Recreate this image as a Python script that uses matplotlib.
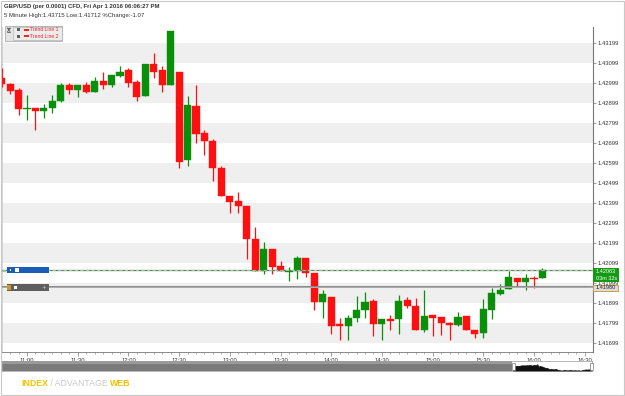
import matplotlib
matplotlib.use("Agg")
import matplotlib.pyplot as plt
from matplotlib.patches import Rectangle
import numpy as np

# ---------------- data ----------------
candle_idx = list(range(-3, 62))  # 5-minute bars, 0 = 11:00
opens = [1.43026, 1.42994, 1.42966, 1.42871, 1.42876, 1.42861, 1.42874, 1.42909, 1.42989, 1.42966,
         1.42989, 1.42956, 1.43011, 1.42991, 1.43033, 1.43064, 1.43003, 1.42936, 1.43093, 1.43064,
         1.42989, 1.43053, 1.42614, 1.42884, 1.42748, 1.42709, 1.42576, 1.42434, 1.42409, 1.42384,
         1.42221, 1.42059, 1.42169, 1.42084, 1.42054, 1.42061, 1.42122, 1.42047, 1.41906, 1.41928,
         1.41792, 1.41786, 1.41826, 1.41864, 1.41909, 1.41792, 1.41819, 1.41818, 1.41913, 1.41884,
         1.41764, 1.41839, 1.41831, 1.41798, 1.41789, 1.41832, 1.41763, 1.41748, 1.41866, 1.41946,
         1.41968, 1.42024, 1.42006, 1.42022, 1.42022]
highs = [1.43072, 1.42998, 1.42974, 1.42941, 1.42876, 1.42896, 1.42939, 1.42998, 1.43001, 1.42989,
         1.43006, 1.43029, 1.43053, 1.43039, 1.43084, 1.43072, 1.43014, 1.43093, 1.43148, 1.43086,
         1.43259, 1.43053, 1.42936, 1.42989, 1.42763, 1.42719, 1.42586, 1.42434, 1.42453, 1.42384,
         1.42281, 1.42203, 1.42169, 1.42109, 1.42080, 1.42134, 1.42122, 1.42047, 1.41964, 1.41928,
         1.41826, 1.41839, 1.41934, 1.41953, 1.41919, 1.41819, 1.41839, 1.41939, 1.41929, 1.41922,
         1.41964, 1.41839, 1.41831, 1.41806, 1.41852, 1.41832, 1.41763, 1.41919, 1.41972, 1.41992,
         1.42059, 1.42024, 1.42042, 1.42033, 1.42073]
lows = [1.42981, 1.42944, 1.42839, 1.42814, 1.42764, 1.42822, 1.42849, 1.42903, 1.42944, 1.42928,
        1.42947, 1.42953, 1.42971, 1.42978, 1.43029, 1.42980, 1.42909, 1.42936, 1.43026, 1.42956,
        1.42989, 1.42576, 1.42586, 1.42698, 1.42639, 1.42511, 1.42432, 1.42351, 1.42351, 1.42117,
        1.42059, 1.42042, 1.42042, 1.42059, 1.42010, 1.42019, 1.42030, 1.41863, 1.41823, 1.41742,
        1.41714, 1.41712, 1.41803, 1.41823, 1.41736, 1.41712, 1.41766, 1.41742, 1.41876, 1.41764,
        1.41752, 1.41736, 1.41739, 1.41714, 1.41786, 1.41766, 1.41722, 1.41725, 1.41819, 1.41939,
        1.41968, 1.41978, 1.41964, 1.41976, 1.42022]
closes = [1.42993, 1.42961, 1.42868, 1.42876, 1.42861, 1.42876, 1.42911, 1.42989, 1.42966, 1.42989,
          1.42956, 1.43011, 1.42991, 1.43039, 1.43053, 1.43001, 1.42931, 1.43093, 1.43056, 1.42989,
          1.43259, 1.42606, 1.42889, 1.42746, 1.42711, 1.42576, 1.42432, 1.42406, 1.42384, 1.42221,
          1.42059, 1.42169, 1.42077, 1.42061, 1.42061, 1.42122, 1.42047, 1.41906, 1.41943, 1.41786,
          1.41784, 1.41823, 1.41864, 1.41906, 1.41792, 1.41819, 1.41809, 1.41911, 1.41884, 1.41764,
          1.41836, 1.41823, 1.41801, 1.41789, 1.41829, 1.41766, 1.41745, 1.41869, 1.41949, 1.41966,
          1.42027, 1.42002, 1.42022, 1.42017, 1.42063]

time_labels = ["11:00", "11:30", "12:00", "12:30", "13:00", "13:30",
               "14:00", "14:30", "15:00", "15:30", "16:00", "16:30"]
time_label_idx = [0, 6, 12, 18, 24, 30, 36, 42, 48, 54, 60, 66]
price_ticks = [1.41699, 1.41799, 1.41899, 1.41999, 1.42099, 1.42199, 1.42299, 1.42399,
               1.42499, 1.42599, 1.42699, 1.42799, 1.42899, 1.42999, 1.43099, 1.43199]
band_ranges = [(1.41699, 1.41799), (1.41899, 1.41999), (1.42099, 1.42199), (1.42299, 1.42399),
               (1.42499, 1.42599), (1.42699, 1.42799), (1.42899, 1.42999), (1.43099, 1.43199)]
last_price = 1.42063
trend_line_1 = 1.42066
trend_line_2 = 1.41980

title1 = "GBP/USD (per 0.0001) CFD, Fri Apr 1 2016 06:06:27 PM"
title2 = "5 Minute High:1.43715 Low:1.41712 %Change:-1.07"

# ---------------- figure ----------------
W, H = 625, 396
fig = plt.figure(figsize=(W / 100, H / 100), dpi=100)
FONT = "Liberation Sans"


def px(x0, y0, x1, y1):
    return [x0 / W, 1 - y1 / H, (x1 - x0) / W, (y1 - y0) / H]


GREEN = "#0a8f0a"
RED = "#ff1010"

# main axes
ax = fig.add_axes(px(2, 27, 593, 352))
ax.set_xlim(-2.96, 66.98)
ax.set_ylim(1.41654, 1.43279)
for lo, hi in band_ranges:
    ax.axhspan(lo, hi, color="#efefef", zorder=0, lw=0)

x = np.array(candle_idx)
o = np.array(opens); h = np.array(highs); l = np.array(lows); c = np.array(closes)
up = c >= o
cols = np.where(up, GREEN, RED)
ax.vlines(x, l, h, colors=cols, lw=0.9, zorder=3)
body_lo = np.minimum(o, c)
body_h = np.maximum(np.abs(c - o), 0.000025)
ax.bar(x, body_h, bottom=body_lo, width=0.84, color=cols, edgecolor=cols, lw=0.3, zorder=4)

ax.axhline(trend_line_1, color="#6a6a6a", lw=0.9, zorder=5)
ax.axhline(last_price, color="#8fd08f", lw=0.8, ls=(0, (3, 2)), zorder=5)
ax.axhline(trend_line_2, color="#8a8a8a", lw=1.4, zorder=5)
ax.axhline(trend_line_2, color="#c8c8c8", lw=0.4, zorder=5)

ax.yaxis.tick_right()
ax.set_yticks(price_ticks)
ax.set_yticklabels([f"{v:.5f}" for v in price_ticks], fontsize=4.2, color="#333333", family=FONT)
ax.tick_params(axis="y", length=2, width=0.5, color="#777777", pad=1.5)
ax.set_xticks(time_label_idx)
ax.set_xticklabels(time_labels, fontsize=4.2, color="#333333", family=FONT)
ax.set_xticks(np.arange(-2, 67, 1), minor=True)
ax.tick_params(axis="x", which="major", length=3, width=0.5, color="#777777", pad=1.0)
ax.tick_params(axis="x", which="minor", length=1.5, width=0.4, color="#777777")
ax.spines["top"].set_visible(False)
ax.spines["right"].set_color("#777777")
ax.spines["right"].set_linewidth(0.8)
ax.spines["bottom"].set_color("#777777")
ax.spines["bottom"].set_linewidth(0.6)
ax.spines["left"].set_color("#d0d0d0")
ax.spines["left"].set_linewidth(0.6)

# navigator
nav = fig.add_axes(px(2, 361, 592, 371))
nav.set_xlim(-423.5, 62.0)
nav.set_ylim(1.4165, 1.4400)
nav.axvspan(-423.5, -3.5, color="#7a7a7a", lw=0, zorder=1)
nav.axvspan(-423.5, -3.5, ymin=0.72, ymax=1.0, color="#9a9a9a", lw=0, zorder=1)
nav.fill_between(x, c, 1.4165, color="#111111", lw=0.5, zorder=2)
nav.set_xticks([]); nav.set_yticks([])
for s in nav.spines.values():
    s.set_color("#9a9a9a"); s.set_linewidth(0.5)

# overlay for UI decorations (pixel coordinates)
ov = fig.add_axes([0, 0, 1, 1], zorder=10)
ov.set_xlim(0, W); ov.set_ylim(H, 0); ov.axis("off")
ov.patch.set_alpha(0)

# outer border
ov.add_patch(Rectangle((0.5, 0.5), W - 2, H - 2, fill=False, ec="#c8c8c8", lw=0.8))

# header
ov.text(4, 6.5, title1, fontsize=4.3, family=FONT, weight="bold", color="#333333", va="center", ha="left")
ov.text(4, 15.5, title2, fontsize=4.3, family=FONT, color="#333333", va="center", ha="left")

# trend line legend box
ov.add_patch(Rectangle((5, 26), 57, 14.5, fc="#e4e4e4", ec="#a0a0a0", lw=0.5))
ov.add_patch(Rectangle((12.5, 26.5), 49, 13.5, fc="#ececec", ec="#a8a8a8", lw=0.4))
# hourglass icon drawn as a shape
ov.plot([7.3, 10.3], [27.9, 27.9], color="#444444", lw=0.5)
ov.plot([7.3, 10.3], [31.7, 31.7], color="#444444", lw=0.5)
ov.plot([7.6, 10.0], [28.0, 31.6], color="#444444", lw=0.5)
ov.plot([10.0, 7.6], [28.0, 31.6], color="#444444", lw=0.5)
for yy, name in [(29.7, "Trend Line 1"), (36.2, "Trend Line 2")]:
    ov.add_patch(Rectangle((16.5, yy - 1.7), 3.5, 3.4, fc="#606060", lw=0))
    ov.add_patch(Rectangle((24, yy - 0.9), 5, 1.8, fc="#ff2020", lw=0))
    ov.text(30.5, yy, name, fontsize=3.6, family=FONT, color="#ff2020", ha="left", va="center")

# left line labels
ov.add_patch(Rectangle((6.5, 267), 42.5, 6, fc="#1a5db8", lw=0))
ov.add_patch(Rectangle((9.5, 268.8), 1.4, 2.6, fc="white", lw=0))
ov.add_patch(Rectangle((15, 268.3), 3.5, 3.5, fc="white", lw=0))
ov.add_patch(Rectangle((6.5, 284.3), 42.5, 6.5, fc="#5e5e5e", lw=0))
ov.add_patch(Rectangle((7.3, 284.8), 3.2, 5.5, fc="#c89a28", lw=0))
ov.add_patch(Rectangle((13.5, 285.8), 3.3, 3.3, fc="white", lw=0))
ov.text(44, 287.5, "+", fontsize=4, color="#cfcfcf", ha="center", va="center", family="DejaVu Sans")
ov.plot([2, 5], [270.8, 270.8], color="#8fd08f", lw=0.8)

# right price labels
ov.add_patch(Rectangle((593, 268), 26, 13.8, fc="#139a13", lw=0))
ov.text(596, 271.5, f"{last_price:.5f}", fontsize=4.0, family=FONT, color="white", va="center", ha="left")
ov.text(596, 278.3, "03m 32s", fontsize=4.0, family=FONT, color="white", va="center", ha="left")
ov.add_patch(Rectangle((593, 284.5), 25, 6.5, fc="#dcdcdc", ec="#c8a050", lw=0.7))
ov.text(596, 287.8, f"{trend_line_2:.5f}", fontsize=4.0, family=FONT, color="#222222", va="center", ha="left")

# navigator handles
for hx in [513, 591]:
    ov.add_patch(Rectangle((hx - 1.5, 362.5), 3, 7, fc="white", ec="#777777", lw=0.5))

# logo
t1 = ov.text(21, 383.5, "INDEX", fontsize=6.3, family=FONT, weight="bold", color="#f2c200", va="center", ha="left")
t2 = ov.annotate(" / ADVANTAGE ", xy=(1, 0.5), xycoords=t1, fontsize=6.3, family=FONT,
                 color="#c9c9c9", va="center", ha="left")
ov.annotate("WEB", xy=(1, 0.5), xycoords=t2, fontsize=6.3, family=FONT, weight="bold",
            color="#f2c200", va="center", ha="left")

fig.savefig("out.png", dpi=100)
